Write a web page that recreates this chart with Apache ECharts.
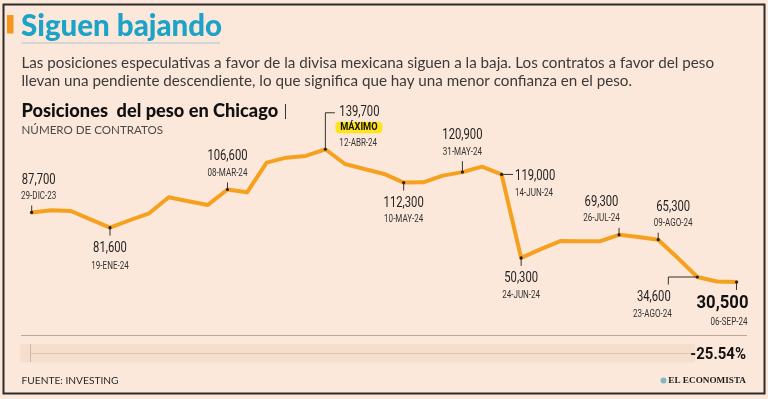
<!DOCTYPE html>
<html>
<head>
<meta charset="utf-8">
<script src="https://cdn.jsdelivr.net/npm/echarts@6/dist/echarts.min.js"></script>
<style>
html,body{margin:0;padding:0;background:#FCE8DA;}
#c{width:768px;height:399px;}
</style>
</head>
<body>
<div id="c"></div>
<script>
// ---- data ----
const weeks = ["29-DIC-23","05-ENE-24","12-ENE-24","19-ENE-24","26-ENE-24","02-FEB-24","09-FEB-24","16-FEB-24","23-FEB-24","01-MAR-24","08-MAR-24","15-MAR-24","22-MAR-24","29-MAR-24","05-ABR-24","12-ABR-24","19-ABR-24","26-ABR-24","03-MAY-24","10-MAY-24","17-MAY-24","24-MAY-24","31-MAY-24","07-JUN-24","14-JUN-24","21-JUN-24","28-JUN-24","05-JUL-24","12-JUL-24","19-JUL-24","26-JUL-24","02-AGO-24","09-AGO-24","16-AGO-24","23-AGO-24","30-AGO-24","06-SEP-24"];
const contracts = [87700,89500,88900,82000,75200,81300,87000,100200,97000,93900,106600,104300,128700,132800,134200,139700,127600,123500,119400,112300,112500,118000,120900,125400,119000,50300,57600,64200,64100,64000,69300,67500,65300,50200,34600,30900,30500];
const annotIndex = [0,4,10,15,19,22,24,25,30,32,34,36];
const annotValue = ["87,700","81,600","106,600","139,700","112,300","120,900","119,000","50,300","69,300","65,300","34,600","30,500"];
const annotDate = ["29-DIC-23","19-ENE-24","08-MAR-24","12-ABR-24","10-MAY-24","31-MAY-24","14-JUN-24","24-JUN-24","26-JUL-24","09-AGO-24","23-AGO-24","06-SEP-24"];
const changeText = "-25.54%";

// ---- styles / layout of annotations (pixel offsets from the point) ----
const COND = "Roboto,'DejaVu Sans',sans-serif";
const BODY = "Lato,'Open Sans',sans-serif";
const annotLayout = [
  {kind:'up', tick:7, dx:7, vy:-32.5, dy:-16.5},
  {kind:'down', tick:8, dx:0, vy:20.5, dy:38},
  {kind:'up', tick:7, dx:0, vy:-33.5, dy:-16},
  {kind:'max'},
  {kind:'down', tick:8, dx:0, vy:20.5, dy:36.5},
  {kind:'up', tick:11, dx:0, vy:-36.5, dy:-20},
  {kind:'right'},
  {kind:'down', tick:8, dx:0, vy:20, dy:37.5},
  {kind:'up', tick:7, dx:-17.5, vy:-33, dy:-16.5},
  {kind:'up', tick:7, dx:15, vy:-32.5, dy:-16.5},
  {kind:'bracket'},
  {kind:'last'}
];

const annotData = annotIndex.map((ix, k) => [ix, contracts[ix], k]);

function txt(x, y, text, size, opts) {
  opts = opts || {};
  return {type:'text', silent:true, x:x, y:y, scaleX:opts.sx || 0.75, scaleY:1,
    style:{x:0, y:0, text:text, fill:opts.fill||'#222',
    font:(opts.weight||'normal')+' '+size+'px '+(opts.family||COND),
    textAlign:opts.align||'center', textVerticalAlign:'middle'}};
}
function seg(pts, color) {
  return {type:'polyline', silent:true, shape:{points:pts}, style:{stroke:color||'#333', lineWidth:1, fill:null}};
}

function renderAnnot(params, api) {
  const k = api.value(2);
  const p = api.coord([api.value(0), api.value(1)]);
  const L = annotLayout[k];
  const ch = [];
  const x = p[0], y = p[1];
  const VS = 15, DS = 11.5, DSX = 0.7;
  if (L.kind === 'up') {
    ch.push(seg([[x, y], [x, y - L.tick]]));
    ch.push(txt(x + L.dx, y + L.vy, annotValue[k], VS, {fill:'#222'}));
    ch.push(txt(x + L.dx, y + L.dy, annotDate[k], DS, {fill:'#333', sx:DSX}));
  } else if (L.kind === 'down') {
    ch.push(seg([[x, y], [x, y + L.tick]]));
    ch.push(txt(x + L.dx, y + L.vy, annotValue[k], VS));
    ch.push(txt(x + L.dx, y + L.dy, annotDate[k], DS, {fill:'#333', sx:DSX}));
  } else if (L.kind === 'right') {
    ch.push(seg([[x, y], [x + 11.5, y]]));
    ch.push(txt(x + 13.5, y + 1.5, annotValue[k], VS, {align:'left'}));
    ch.push(txt(x + 13.5, y + 18.5, annotDate[k], DS, {align:'left', fill:'#333', sx:DSX}));
  } else if (L.kind === 'max') {
    ch.push(seg([[x, y], [x, y - 36.5], [x + 9.5, y - 36.5]]));
    ch.push(txt(x + 14, y - 37.5, annotValue[k], VS, {align:'left'}));
    ch.push({type:'rect', silent:true, shape:{x:x + 10, y:y - 27.5, width:47, height:11.5, r:4}, style:{fill:'#FFE41C'}});
    ch.push(txt(x + 33.5, y - 21.6, 'MÁXIMO', 10.5, {weight:'bold', fill:'#111', sx:0.88}));
    ch.push(txt(x + 14, y - 6.5, annotDate[k], DS, {align:'left', fill:'#333', sx:DSX}));
  } else if (L.kind === 'bracket') {
    ch.push(seg([[x, y], [x - 29, y], [x - 29, y + 7.5]]));
    ch.push(txt(x - 43.5, y + 20, annotValue[k], VS));
    ch.push(txt(x - 45, y + 37.5, annotDate[k], DS, {fill:'#333', sx:DSX}));
  } else if (L.kind === 'last') {
    ch.push(seg([[x, y], [x, y + 8]]));
    ch.push(txt(x - 14, y + 21.5, annotValue[k], 18.5, {weight:'bold', fill:'#111', sx:0.9}));
    ch.push(txt(x + 11, y + 40.5, annotDate[k], DS, {align:'right', fill:'#333', sx:DSX}));
  }
  ch.push({type:'circle', silent:true, shape:{cx:x, cy:y, r:1.6}, style:{fill:'#222'}});
  return {type:'group', children:ch};
}

const chart = echarts.init(document.getElementById('c'), null, {renderer:'canvas'});
chart.setOption({
  backgroundColor:'#FCE8DA',
  animation:false,
  grid:{left:31.7, right:31.5, top:124.6, bottom:79.94, containLabel:false},
  xAxis:{type:'category', data:weeks, boundaryGap:false, show:false},
  yAxis:{type:'value', min:0, max:160000, show:false},
  series:[
    {type:'line', data:contracts, symbol:'none', z:2,
     lineStyle:{color:'#F5A11F', width:4, join:'round', cap:'round'}},
    {type:'custom', data:annotData, encode:{x:0, y:1}, renderItem:renderAnnot, z:5, clip:false}
  ],
  graphic:[
    {type:'rect', silent:true, shape:{x:3.5, y:4.5, width:761, height:389}, style:{fill:null, stroke:'#2b2b2b', lineWidth:2}},
    {type:'rect', silent:true, shape:{x:7, y:15, width:6.5, height:18.5}, style:{fill:'#F7941D'}},
    {type:'text', silent:true, style:{x:21, y:26, text:'Siguen bajando', fill:'#1CA3C7', font:'900 29.5px '+BODY, textVerticalAlign:'middle'}},
    {type:'line', silent:true, shape:{x1:21.5, y1:43, x2:220, y2:43}, style:{stroke:'#A9C3CC', lineWidth:1}},
    {type:'text', silent:true, style:{x:21.5, y:63, text:'Las posiciones especulativas a favor de la divisa mexicana siguen a la baja. Los contratos a favor del peso', fill:'#3a3a3a', font:'15.2px '+BODY, textVerticalAlign:'middle'}},
    {type:'text', silent:true, style:{x:21.5, y:81.5, text:'llevan una pendiente descendiente, lo que significa que hay una menor confianza en el peso.', fill:'#3a3a3a', font:'15.2px '+BODY, textVerticalAlign:'middle'}},
    {type:'text', silent:true, style:{x:21.5, y:111.5, text:'Posiciones  del peso en Chicago', fill:'#111', font:'900 18.2px '+BODY, textVerticalAlign:'middle'}},
    {type:'line', silent:true, shape:{x1:285.5, y1:104, x2:285.5, y2:119}, style:{stroke:'#333', lineWidth:1}},
    {type:'text', silent:true, style:{x:21.5, y:130.5, text:'NÚMERO DE CONTRATOS', fill:'#4a4a4a', font:'11.6px '+BODY, textVerticalAlign:'middle'}},
    {type:'line', silent:true, shape:{x1:21, y1:335.5, x2:747, y2:335.5}, style:{stroke:'#B9A89B', lineWidth:1}},
    {type:'rect', silent:true, shape:{x:20, y:344, width:675, height:18.5}, style:{fill:'#F6DECD'}},
    {type:'line', silent:true, shape:{x1:30.5, y1:353.5, x2:695, y2:353.5}, style:{stroke:'#DCC3B1', lineWidth:1}},
    {type:'line', silent:true, shape:{x1:30.5, y1:344, x2:30.5, y2:362}, style:{stroke:'#CDB6A5', lineWidth:1}},
    {type:'text', silent:true, x:746, y:354.5, scaleX:0.88, style:{x:0, y:0, text:changeText, fill:'#111', font:'bold 17px '+COND, textAlign:'right', textVerticalAlign:'middle'}},
    {type:'text', silent:true, style:{x:21.5, y:381, text:'FUENTE: INVESTING', fill:'#2a2a2a', font:'10.2px '+BODY, textVerticalAlign:'middle'}},
    {type:'circle', silent:true, shape:{cx:663.5, cy:380.5, r:3}, style:{fill:'#7DB9C4'}},
    {type:'text', silent:true, style:{x:746, y:381, text:'EL ECONOMISTA', fill:'#1a1a1a', font:'bold 9.2px "Liberation Serif",serif', textAlign:'right', textVerticalAlign:'middle'}}
  ]
});
</script>
</body>
</html>
